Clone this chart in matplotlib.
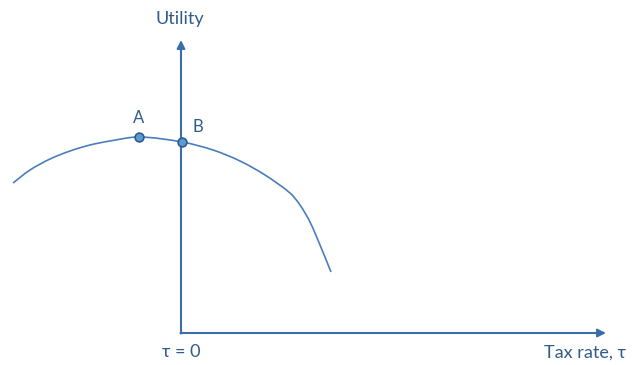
import matplotlib
matplotlib.use("Agg")
import matplotlib.pyplot as plt
from matplotlib.path import Path
from matplotlib.patches import PathPatch

# utility curve (pixel coordinates, y grows downward)
curve_x = [13, 30, 50, 70, 90, 110, 139, 182, 213, 240, 265, 290, 300, 310, 320, 331]
curve_y = [183, 170, 159, 151, 145, 141, 137, 142, 150, 161, 175, 193, 205, 222, 245, 272]

# marked points
point_names = ["A", "B"]
point_x = [139, 182]
point_y = [137, 142]

# axes origin and arrow ends
origin = (181, 333)
x_end = 606
y_end = 40

text_col = "#2E5C8A"
line_col = "#3A6EA8"

plt.rcParams['font.family'] = ['Lato', 'DejaVu Sans']


def smooth_path(xs, ys):
    # bezier segments through the read points, tangents from chord lengths
    pts = list(zip(xs, ys))
    n = len(pts)
    t = [0.0]
    for i in range(1, n):
        dx = pts[i][0] - pts[i - 1][0]
        dy = pts[i][1] - pts[i - 1][1]
        t.append(t[-1] + (dx * dx + dy * dy) ** 0.5)
    tang = []
    for i in range(n):
        a = max(i - 1, 0)
        b = min(i + 1, n - 1)
        dt = t[b] - t[a]
        tang.append(((pts[b][0] - pts[a][0]) / dt, (pts[b][1] - pts[a][1]) / dt))
    verts = [pts[0]]
    codes = [Path.MOVETO]
    for i in range(n - 1):
        h = (t[i + 1] - t[i]) / 3
        c1 = (pts[i][0] + tang[i][0] * h, pts[i][1] + tang[i][1] * h)
        c2 = (pts[i + 1][0] - tang[i + 1][0] * h, pts[i + 1][1] - tang[i + 1][1] * h)
        verts += [c1, c2, pts[i + 1]]
        codes += [Path.CURVE4] * 3
    return Path(verts, codes)


fig = plt.figure(figsize=(6.33, 3.65), dpi=100)
ax = fig.add_axes([0, 0, 1, 1])
ax.set_xlim(0, 633)
ax.set_ylim(365, 0)
ax.axis("off")

ax.annotate("", xy=(x_end, origin[1]), xytext=(origin[0] - 0.5, origin[1]),
            arrowprops=dict(arrowstyle="-|>", color=line_col, lw=1.5,
                            mutation_scale=12, shrinkA=0, shrinkB=0))
ax.annotate("", xy=(origin[0], y_end), xytext=(origin[0], origin[1] + 0.5),
            arrowprops=dict(arrowstyle="-|>", color=line_col, lw=1.5,
                            mutation_scale=12, shrinkA=0, shrinkB=0))

ax.add_patch(PathPatch(smooth_path(curve_x, curve_y), facecolor="none",
                       edgecolor="#4A7EBB", lw=1.2))
ax.scatter(point_x, point_y, s=40, color="#5B9BD5", edgecolors="#2E5C8A",
           linewidths=1.2, zorder=5)

ax.text(139, 118, point_names[0], color=text_col, fontsize=12, ha="center", va="center")
ax.text(198, 127, point_names[1], color=text_col, fontsize=12, ha="center", va="center")
ax.text(180, 19, "Utility", color=text_col, fontsize=13, ha="center", va="center")
ax.text(181, 352, "τ = 0", color=text_col, fontsize=13, ha="center", va="center")
ax.text(585, 353, "Tax rate, τ", color=text_col, fontsize=13, ha="center", va="center")

plt.savefig("out.png", dpi=100)
